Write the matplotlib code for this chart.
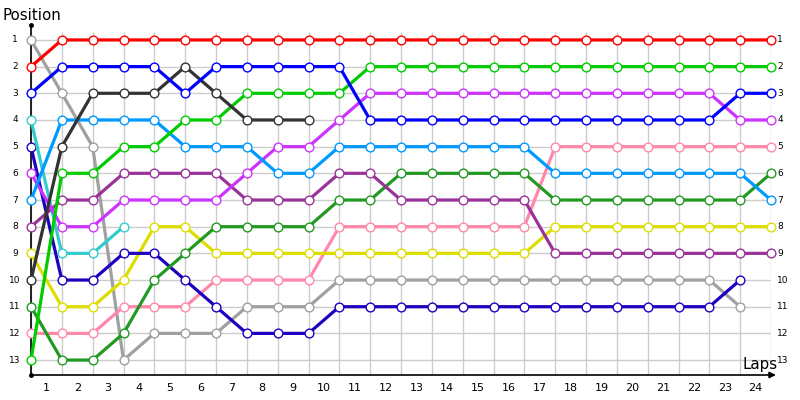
import matplotlib
matplotlib.use('Agg')
import matplotlib.pyplot as plt

laps = list(range(0, 25))

# positions per lap (lap 0 .. last lap of each driver)
red = [2] + [1] * 24
blue = [3, 2, 2, 2, 2, 3, 2, 2, 2, 2, 2] + [4] * 12 + [3, 3]
black = [10, 5, 3, 3, 3, 2, 3, 4, 4, 4]
green = [13, 6, 6, 5, 5, 4, 4, 3, 3, 3, 3] + [2] * 14
lightblue = [7, 4, 4, 4, 4, 5, 5, 5, 6, 6] + [5] * 7 + [6] * 7 + [7]
magenta = [6, 8, 8, 7, 7, 7, 7, 6, 5, 5, 4] + [3] * 12 + [4, 4]
purple = [8, 7, 7, 6, 6, 6, 6, 7, 7, 7, 6, 6] + [7] * 5 + [9] * 8
darkgreen = [11, 13, 13, 12, 10, 9, 8, 8, 8, 8, 7, 7] + [6] * 5 + [7] * 7 + [6]
cyan = [4, 9, 9, 8]
navy = [5, 10, 10, 9, 9, 10, 11, 12, 12, 12] + [11] * 13 + [10]
yellow = [9, 11, 11, 10, 8, 8] + [9] * 11 + [8] * 8
pink = [12, 12, 12, 11, 11, 11, 10, 10, 10, 10] + [8] * 7 + [5] * 8
gray = [1, 3, 5, 13, 12, 12, 12, 11, 11, 11] + [10] * 13 + [11]

series = [
    (gray, '#a0a0a0'),
    (pink, '#ff88aa'),
    (yellow, '#dddd00'),
    (navy, '#1e00c0'),
    (cyan, '#33cccc'),
    (darkgreen, '#229922'),
    (purple, '#993399'),
    (magenta, '#cc33ff'),
    (lightblue, '#0099ff'),
    (green, '#00cc00'),
    (black, '#333333'),
    (blue, '#0000ff'),
    (red, '#ff0000'),
]

fig = plt.figure(figsize=(8, 4), dpi=100)
# x: lap 0 -> 31px, lap 24 -> 771px ; y: axis from 25px to 375px
ax = fig.add_axes([31 / 800, 25 / 400, 740 / 800, 350 / 400])
ax.set_xlim(0, 24)
ax.set_ylim(13.56, 0.44)

# grid
ax.vlines(laps, 0.7, 13.56, color='#cccccc', lw=1, zorder=0)
ax.hlines(range(1, 14), 0, 24, color='#cccccc', lw=1, zorder=0)

for pos, col in series:
    ax.plot(laps[:len(pos)], pos, color=col, lw=2.3, marker='o', ms=6.3,
            mfc='white', mec=col, mew=1.0, zorder=3, clip_on=False)

for s in ax.spines.values():
    s.set_visible(False)
ax.set_xticks([])
ax.set_yticks([])

# axes with arrows
ax.annotate('', xy=(24.25, 13.56), xytext=(0, 13.56),
            arrowprops=dict(arrowstyle='-|>', color='black', lw=1.2, mutation_scale=9),
            annotation_clip=False)
ax.plot([0, 0], [13.56, 0.44], color='black', lw=1.2, clip_on=False)
ax.plot([0, 0], [13.56, 0.44], 'ko', ms=2.5, clip_on=False)

# lap labels between grid lines
for k in range(1, 25):
    ax.text(k - 0.5, 13.56 + 0.5, str(k), ha='center', va='center', fontsize=8)

# position labels left and right
for p in range(1, 14):
    ax.text(-0.52, p, str(p), ha='center', va='center', fontsize=6.5)
    ax.text(24.2, p, str(p), ha='left', va='center', fontsize=6.5)

fig.text(3 / 800, 1 - 15 / 400, 'Position', ha='left', va='center', fontsize=10.8)
fig.text(743 / 800, 1 - 365 / 400, 'Laps', ha='left', va='center', fontsize=10.8)

fig.savefig('out.png', dpi=100)
